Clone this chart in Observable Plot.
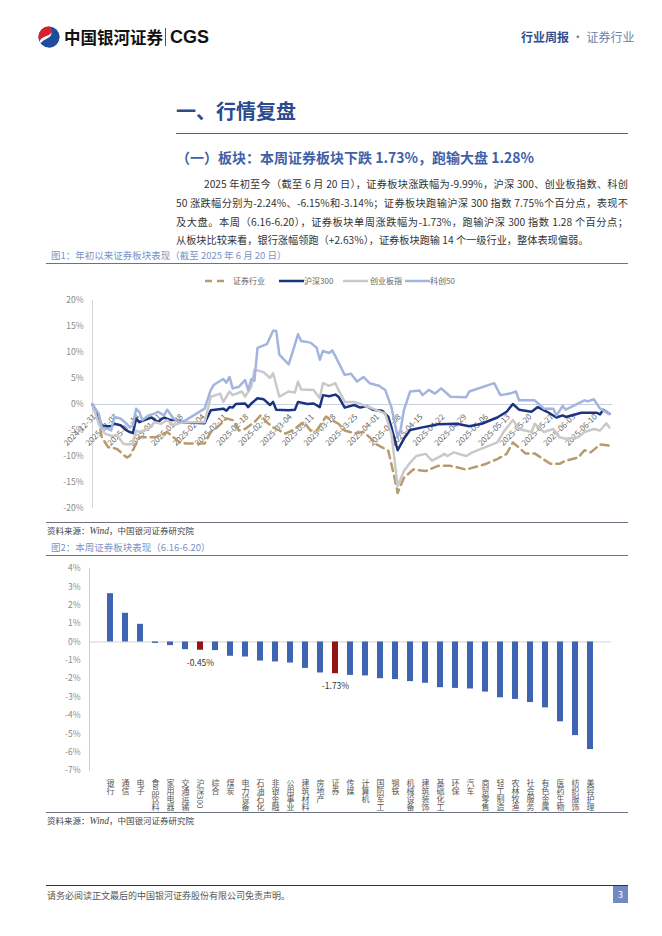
<!DOCTYPE html>
<html><head><meta charset="utf-8">
<script src="https://cdn.jsdelivr.net/npm/d3@7"></script>
<script src="https://cdn.jsdelivr.net/npm/@observablehq/plot@0.6"></script>
<style>
body{margin:0;background:#fff;font-family:"Noto Sans CJK SC","Noto Sans",sans-serif;}
#page{position:relative;width:662px;height:936px;overflow:hidden;background:#fff;}
.abs{position:absolute;white-space:nowrap;}
.hr{position:absolute;height:0;}
.para{position:absolute;left:176px;width:452px;font-size:10.2px;color:#333;line-height:12px;white-space:nowrap;text-align:justify;text-align-last:justify;}
.figt{position:absolute;left:51px;font-size:9.5px;color:#7a93c6;line-height:11px;}
.src{position:absolute;left:47px;font-size:8.5px;color:#444;line-height:10px;}
.leg{position:absolute;top:276px;font-size:8px;color:#666;line-height:10px;display:flex;align-items:center;}
</style></head><body><div id="page">
<svg class="abs" style="left:38px;top:26px" width="22" height="22" viewBox="0 0 22 22">
 <circle cx="11" cy="11" r="10.5" fill="#1f4c9c"/>
 <path d="M11 0.5 A10.5 10.5 0 0 0 1.5 15.5 C4 9 12 11 13.5 6 C14.5 3 13 1.2 11 0.5Z" fill="#d6222b"/>
 <path d="M20.5 7 C18 13 10 11 8.5 16 C7.8 18.5 9 20.5 11 21.5 A10.5 10.5 0 0 0 20.5 7Z" fill="#1f4c9c"/>
 <path d="M13.5 6 C12 11 4 9 1.5 15.5 L3 17 C6 12 14 13 13.5 6Z" fill="#fff"/>
</svg>
<div class="abs" style="left:64px;top:27px;font-size:16.5px;font-weight:bold;color:#111;line-height:20px;">中国银河证券</div>
<div class="abs" style="left:165px;top:28px;width:1.2px;height:18px;background:#c8202a;"></div>
<div class="abs" style="left:170px;top:26px;font-family:'Liberation Sans',Arial,sans-serif;font-size:18px;font-weight:bold;color:#111;line-height:22px;">CGS</div>
<div class="abs" style="left:521px;top:30px;font-size:12px;line-height:14px;color:#2f4f8f;"><b>行业周报</b><span style="color:#6a7fa8"> · 证券行业</span></div>

<div class="abs" style="left:176px;top:99px;font-size:20px;font-weight:bold;color:#2b4b8d;line-height:24px;">一、行情复盘</div>
<div class="hr" style="left:176px;top:133px;width:452px;border-top:1px solid #4a5d90;"></div>
<div class="abs" style="left:176px;top:149px;font-size:14px;font-weight:bold;color:#4061a8;line-height:17px;">（一）板块：本周证券板块下跌 1.73%，跑输大盘 1.28%</div>

<div class="para" style="top:178px;left:204px;width:424px;">2025 年初至今（截至 6 月 20 日），证券板块涨跌幅为-9.99%，沪深 300、创业板指数、科创</div>
<div class="para" style="top:197px;">50 涨跌幅分别为-2.24%、-6.15%和-3.14%；证券板块跑输沪深 300 指数 7.75%个百分点，表现不</div>
<div class="para" style="top:216px;">及大盘。本周（6.16-6.20），证券板块单周涨跌幅为-1.73%，跑输沪深 300 指数 1.28 个百分点；</div>
<div class="para" style="top:234px;text-align-last:left;">从板块比较来看，银行涨幅领跑（+2.63%），证券板块跑输 14 个一级行业，整体表现偏弱。</div>

<div class="figt" style="top:250px;">图1：年初以来证券板块表现（截至 2025 年 6 月 20 日）</div>
<div class="hr" style="left:46px;top:263px;width:582px;border-top:1px solid #6b7280;"></div>

<div class="leg" style="left:204px;"><svg width="24" height="6"><line x1="1" y1="3" x2="23" y2="3" stroke="#b89b6c" stroke-width="2.5" stroke-dasharray="7,5"/></svg><span style="margin-left:5px">证券行业</span></div>
<div class="leg" style="left:279px;"><svg width="25" height="6"><line x1="0" y1="3" x2="25" y2="3" stroke="#1b3480" stroke-width="2.5"/></svg><span>沪深300</span></div>
<div class="leg" style="left:343px;"><svg width="27" height="6"><line x1="0" y1="3" x2="25" y2="3" stroke="#c9c9c9" stroke-width="2.5"/></svg><span>创业板指</span></div>
<div class="leg" style="left:405px;"><svg width="25" height="6"><line x1="0" y1="3" x2="25" y2="3" stroke="#a3b5de" stroke-width="2.5"/></svg><span>科创50</span></div>

<div id="chart1" class="abs" style="left:0;top:290px;"></div>
<div class="hr" style="left:46px;top:522px;width:582px;border-top:1px solid #6b7280;"></div>
<div class="src" style="top:525px;">资料来源：<i style="font-family:'Liberation Serif',serif;font-size:9.5px">Wind</i>，中国银河证券研究院</div>
<div class="figt" style="top:542px;">图2：本周证券板块表现（6.16-6.20）</div>
<div class="hr" style="left:46px;top:555px;width:582px;border-top:1px solid #6b7280;"></div>
<div id="chart2" class="abs" style="left:0;top:555px;"></div>
<div class="hr" style="left:46px;top:812px;width:582px;border-top:1px solid #6b7280;"></div>
<div class="src" style="top:815px;">资料来源：<i style="font-family:'Liberation Serif',serif;font-size:9.5px">Wind</i>，中国银河证券研究院</div>

<div class="hr" style="left:46px;top:885px;width:582px;border-top:1.5px solid #333;"></div>
<div class="abs" style="left:47px;top:890px;font-size:9px;color:#555;line-height:11px;">请务必阅读正文最后的中国银河证券股份有限公司免责声明。</div>
<div class="abs" style="left:613px;top:886px;width:15px;height:17px;background:#6f8bc4;color:#fff;font-size:9px;line-height:17px;text-align:center;">3</div>
</div>
<script>
// ---------- Chart 1 data: cumulative change since 2024-12-31 (%) ----------
const secData = [["2024-12-31",0],["2025-01-02",-3.0],["2025-01-03",-6.3],["2025-01-05",-8.2],["2025-01-06",-8.2],["2025-01-08",-8.6],["2025-01-11",-10.2],["2025-01-12",-9.9],["2025-01-14",-7.6],["2025-01-15",-6.3],["2025-01-19",-6.3],["2025-01-20",-6.3],["2025-01-22",-6.0],["2025-01-24",-5.3],["2025-01-26",-6.3],["2025-01-28",-7.3],["2025-01-30",-7.5],["2025-02-05",-7.5],["2025-02-07",-5.3],["2025-02-09",-4.4],["2025-02-12",-2.7],["2025-02-14",-3.0],["2025-02-16",-5.0],["2025-02-18",-4.7],["2025-02-21",-3.4],["2025-02-23",-2.1],["2025-02-25",-3.4],["2025-02-27",-4.4],["2025-03-01",-5.0],["2025-03-03",-5.6],["2025-03-06",-4.7],["2025-03-08",-3.7],["2025-03-09",-3.4],["2025-03-11",-5.0],["2025-03-13",-5.0],["2025-03-16",-2.3],["2025-03-17",-2.7],["2025-03-20",-3.7],["2025-03-22",-5.0],["2025-03-25",-5.5],["2025-03-28",-5.3],["2025-03-30",-6.3],["2025-04-01",-7.6],["2025-04-05",-8.9],["2025-04-07",-14.1],["2025-04-08",-17.0],["2025-04-10",-14.1],["2025-04-13",-12.5],["2025-04-17",-12.8],["2025-04-21",-11.8],["2025-04-25",-11.8],["2025-04-30",-12.5],["2025-05-06",-11.5],["2025-05-10",-10.5],["2025-05-13",-9.5],["2025-05-15",-7.3],["2025-05-17",-8.3],["2025-05-19",-9.4],["2025-05-22",-9.4],["2025-05-24",-10.2],["2025-05-27",-11.4],["2025-05-30",-11.4],["2025-06-01",-10.8],["2025-06-05",-10.2],["2025-06-07",-8.8],["2025-06-09",-9.2],["2025-06-12",-7.7],["2025-06-15",-7.9]];
const hs300Data = [["2024-12-31",0],["2025-01-03",-4.0],["2025-01-04",-4.2],["2025-01-06",-4.2],["2025-01-07",-3.7],["2025-01-09",-4.0],["2025-01-11",-5.0],["2025-01-12",-5.3],["2025-01-13",-5.5],["2025-01-14",-2.7],["2025-01-15",-3.4],["2025-01-18",-2.7],["2025-01-19",-2.5],["2025-01-21",-3.4],["2025-01-22",-2.9],["2025-01-23",-2.5],["2025-01-25",-3.0],["2025-01-27",-3.0],["2025-01-29",-3.4],["2025-02-05",-3.6],["2025-02-07",-1.1],["2025-02-11",-0.8],["2025-02-12",-1.2],["2025-02-13",-0.5],["2025-02-14",-0.6],["2025-02-15",0.1],["2025-02-18",0.2],["2025-02-19",-0.5],["2025-02-20",0.2],["2025-02-22",1.2],["2025-02-24",1.0],["2025-02-26",-0.1],["2025-02-27",0.5],["2025-02-28",-1.0],["2025-03-04",-1.1],["2025-03-06",-1.0],["2025-03-07",0.5],["2025-03-10",0.1],["2025-03-12",0.2],["2025-03-14",-0.5],["2025-03-15",1.8],["2025-03-17",1.6],["2025-03-19",1.9],["2025-03-20",1.5],["2025-03-22",-0.6],["2025-03-25",-0.1],["2025-03-27",-0.6],["2025-03-29",-0.3],["2025-03-31",-1.0],["2025-04-03",-1.2],["2025-04-05",-2.4],["2025-04-06",-4.4],["2025-04-08",-8.8],["2025-04-10",-6.6],["2025-04-12",-4.9],["2025-04-16",-4.4],["2025-04-21",-3.8],["2025-04-27",-3.7],["2025-05-01",-4.2],["2025-05-05",-3.7],["2025-05-10",-2.5],["2025-05-13",-1.4],["2025-05-15",0.1],["2025-05-17",-1.0],["2025-05-21",-1.4],["2025-05-23",-0.5],["2025-05-26",-1.4],["2025-05-29",-2.5],["2025-05-31",-2.1],["2025-06-01",-2.4],["2025-06-06",-1.6],["2025-06-11",-1.6],["2025-06-12",-1.9],["2025-06-13",-1.0],["2025-06-15",-1.8]];
const cybData = [["2024-12-31",0],["2025-01-02",-3.7],["2025-01-04",-5.6],["2025-01-06",-6.0],["2025-01-08",-6.0],["2025-01-10",-7.6],["2025-01-12",-7.7],["2025-01-13",-7.5],["2025-01-14",-5.0],["2025-01-15",-5.3],["2025-01-18",-4.7],["2025-01-20",-3.4],["2025-01-22",-3.7],["2025-01-24",-3.0],["2025-01-26",-4.0],["2025-01-29",-3.4],["2025-02-05",-3.4],["2025-02-07",1.5],["2025-02-10",2.1],["2025-02-11",0.5],["2025-02-13",2.5],["2025-02-14",1.8],["2025-02-17",2.5],["2025-02-18",1.5],["2025-02-20",3.4],["2025-02-21",6.7],["2025-02-24",6.2],["2025-02-26",5.1],["2025-02-27",6.0],["2025-03-01",1.5],["2025-03-04",2.5],["2025-03-06",2.3],["2025-03-07",4.4],["2025-03-08",2.9],["2025-03-12",2.8],["2025-03-14",1.2],["2025-03-15",4.1],["2025-03-17",3.6],["2025-03-19",4.1],["2025-03-20",2.8],["2025-03-22",0.5],["2025-03-25",0.5],["2025-03-28",-0.1],["2025-03-31",-0.8],["2025-04-04",-1.75],["2025-04-06",-5.6],["2025-04-08",-15.7],["2025-04-10",-12.8],["2025-04-12",-11.2],["2025-04-14",-9.9],["2025-04-17",-9.5],["2025-04-19",-10.8],["2025-04-22",-9.9],["2025-04-23",-9.5],["2025-04-24",-9.9],["2025-04-26",-9.2],["2025-04-30",-9.9],["2025-05-02",-9.2],["2025-05-10",-7.3],["2025-05-12",-5.3],["2025-05-15",-3.0],["2025-05-17",-4.7],["2025-05-21",-5.3],["2025-05-22",-3.7],["2025-05-25",-5.3],["2025-05-28",-4.7],["2025-05-30",-6.3],["2025-06-01",-6.6],["2025-06-05",-6.3],["2025-06-07",-5.3],["2025-06-10",-4.7],["2025-06-12",-5.0],["2025-06-14",-3.6],["2025-06-15",-4.4]];
const kc50Data = [["2024-12-31",0],["2025-01-02",-1.75],["2025-01-03",-4.4],["2025-01-05",-4.7],["2025-01-06",-5.0],["2025-01-07",-2.4],["2025-01-09",-2.7],["2025-01-11",-3.7],["2025-01-12",-4.4],["2025-01-13",-4.0],["2025-01-14",-0.8],["2025-01-15",-1.4],["2025-01-16",-3.0],["2025-01-18",-2.1],["2025-01-20",-1.75],["2025-01-21",-1.4],["2025-01-23",-2.1],["2025-01-24",-1.0],["2025-01-26",-2.7],["2025-01-28",-3.4],["2025-01-30",-3.0],["2025-02-05",-0.8],["2025-02-07",2.8],["2025-02-08",3.8],["2025-02-11",4.9],["2025-02-12",4.2],["2025-02-13",5.3],["2025-02-14",3.1],["2025-02-16",3.4],["2025-02-18",4.7],["2025-02-19",2.8],["2025-02-20",4.9],["2025-02-21",4.6],["2025-02-22",10.9],["2025-02-25",11.6],["2025-02-27",14.2],["2025-02-28",14.2],["2025-03-01",9.6],["2025-03-04",7.7],["2025-03-05",9.6],["2025-03-07",13.5],["2025-03-08",12.2],["2025-03-11",11.9],["2025-03-13",10.9],["2025-03-14",8.6],["2025-03-15",10.3],["2025-03-17",9.9],["2025-03-18",10.4],["2025-03-19",9.3],["2025-03-22",5.7],["2025-03-24",5.9],["2025-03-26",4.4],["2025-03-28",5.3],["2025-03-30",4.1],["2025-04-02",3.6],["2025-04-04",2.8],["2025-04-06",-0.5],["2025-04-08",-6.3],["2025-04-09",-4.7],["2025-04-10",-1.1],["2025-04-12",2.5],["2025-04-15",2.7],["2025-04-16",1.8],["2025-04-18",2.8],["2025-04-20",2.1],["2025-04-22",3.1],["2025-04-25",1.5],["2025-04-30",1.4],["2025-05-01",2.5],["2025-05-09",4.1],["2025-05-11",1.8],["2025-05-14",2.1],["2025-05-16",2.5],["2025-05-17",0.8],["2025-05-22",0.8],["2025-05-25",-0.8],["2025-05-28",-0.8],["2025-05-29",-2.1],["2025-05-31",-0.3],["2025-06-01",-1.0],["2025-06-07",0.8],["2025-06-08",0.6],["2025-06-10",1.0],["2025-06-12",-0.8],["2025-06-15",-1.8]];
const yTicks1 = [-20,-15,-10,-5,0,5,10,15,20];

// ---------- Chart 2 data: weekly change 6.16-6.20 (%) ----------
const industries = ["银行","通信","电子","食品饮料","家用电器","交通运输","沪深300","综合","煤炭","电力设备","石油石化","非银金融","公用事业","建筑材料","房地产","证券","传媒","计算机","国防军工","钢铁","机械设备","建筑装饰","基础化工","环保","汽车","商贸零售","轻工制造","农林牧渔","社会服务","有色金属","医药生物","纺织服饰","美容护理"];
const weekChange = [2.63,1.56,0.96,-0.08,-0.2,-0.42,-0.45,-0.47,-0.78,-0.82,-1.04,-1.09,-1.15,-1.44,-1.69,-1.73,-1.82,-1.85,-2.0,-2.05,-2.16,-2.25,-2.49,-2.53,-2.56,-2.73,-3.04,-3.13,-3.3,-3.59,-4.35,-5.1,-5.86];
const highlighted = ["沪深300","证券"];
const yTicks2 = [-7,-6,-5,-4,-3,-2,-1,0,1,2,3,4];

const font = '"Noto Sans CJK SC","Noto Sans",sans-serif';
const parse = d3.utcParse("%Y-%m-%d");
const seriesColors = {"证券行业":"#b89b6c","沪深300":"#1b3480","创业板指":"#c9c9c9","科创50":"#a3b5de"};
const toRows = (name, arr) => arr.map(([d, v]) => ({series: name, date: parse(d), value: v}));
const secRows = toRows("证券行业", secData), hsRows = toRows("沪深300", hs300Data),
      cybRows = toRows("创业板指", cybData), kcRows = toRows("科创50", kc50Data);
const start = parse("2024-12-31"), end = parse("2025-06-16");
const dateTicks = d3.range(24).map(i => d3.utcDay.offset(start, 7 * i));
const fmt = d3.utcFormat("%Y-%m-%d");

const chart1 = Plot.plot({
  width: 662, height: 230, marginLeft: 92, marginRight: 50, marginTop: 10, marginBottom: 12,
  style: {background: "transparent", fontFamily: font, overflow: "visible"},
  x: {type: "utc", domain: [start, end], axis: null},
  y: {domain: [-20, 20]},
  marks: [
    Plot.ruleY([0], {stroke: "#c9d0e2", strokeWidth: 1}),
    Plot.ruleX([start], {stroke: "#d6d6d6"}),
    Plot.axisY({ticks: yTicks1, tickSize: 0, tickPadding: 9, label: null, tickFormat: d => d + "%", fontSize: 8.5, fill: "#8a8a8a"}),
    Plot.text(dateTicks, {x: d => d, y: () => 0, text: d => fmt(d), rotate: -45, textAnchor: "end", dy: 11, dx: 2, fontSize: 8, fill: "#666"}),
    Plot.line(secRows, {x: "date", y: "value", stroke: seriesColors["证券行业"], strokeWidth: 2.5, strokeDasharray: "8,5"}),
    Plot.line(hsRows, {x: "date", y: "value", stroke: seriesColors["沪深300"], strokeWidth: 2.5}),
    Plot.line(cybRows, {x: "date", y: "value", stroke: seriesColors["创业板指"], strokeWidth: 2.5}),
    Plot.line(kcRows, {x: "date", y: "value", stroke: seriesColors["科创50"], strokeWidth: 2.5})
  ]
});
document.getElementById("chart1").appendChild(chart1);

const barRows = industries.map((name, i) => ({name, value: weekChange[i]}));
const chart2 = Plot.plot({
  width: 662, height: 265, marginLeft: 89, marginRight: 51, marginTop: 13, marginBottom: 50,
  style: {background: "transparent", fontFamily: font, overflow: "visible"},
  x: {domain: industries, padding: 0.62, axis: null},
  y: {domain: [-7, 4]},
  marks: [
    Plot.ruleY([0], {stroke: "#d3d3d3"}),
    Plot.frame({anchor: "left", stroke: "#d0d0d0"}),
    Plot.axisY({ticks: yTicks2, tickSize: 0, tickPadding: 9, label: null, tickFormat: d => d + "%", fontSize: 8.5, fill: "#8a8a8a"}),
    Plot.barY(barRows, {x: "name", y: "value", fill: d => highlighted.includes(d.name) ? "#931414" : "#3f65b2"}),
    Plot.text(barRows.filter(d => highlighted.includes(d.name)), {x: "name", y: "value", text: d => d.value.toFixed(2) + "%", dy: 13, fontSize: 8.5, fill: "#333"}),
    Plot.text(industries, {x: d => d, y: () => -7, text: d => d, textAnchor: "start", dy: 6, fontSize: 8, fill: "#555"})
  ]
});
// category labels are written vertically, as in the reference
const labelSet = new Set(industries);
chart2.querySelectorAll("text").forEach(t => {
  if (labelSet.has(t.textContent)) {
    t.removeAttribute("dy");
    t.style.writingMode = "vertical-rl";
    t.style.textOrientation = "mixed";
    t.setAttribute("text-anchor", "start");
  }
});
document.getElementById("chart2").appendChild(chart2);
</script>
</body></html>
